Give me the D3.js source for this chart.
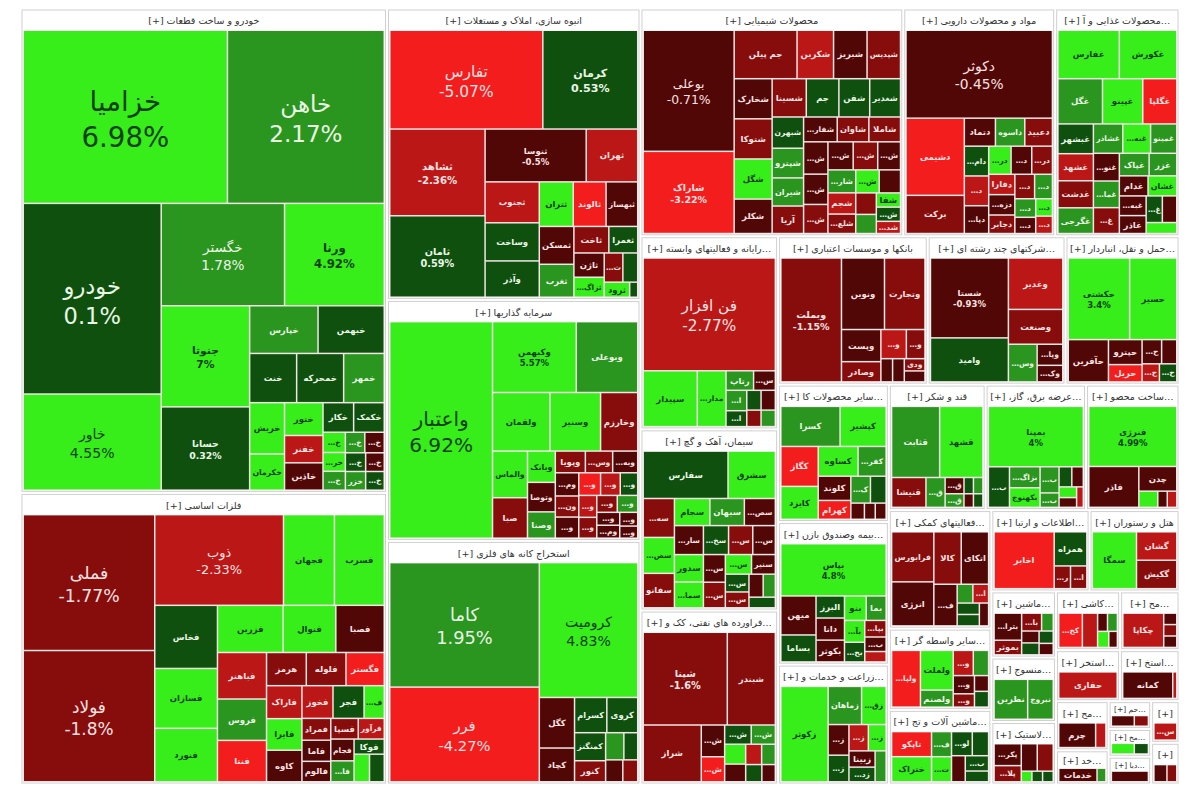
<!DOCTYPE html>
<html><head><meta charset="utf-8">
<script src="https://cdn.jsdelivr.net/npm/d3@7"></script>
<style>
html,body{margin:0;background:#fff;}
svg{display:block;font-family:"DejaVu Sans",Tahoma,sans-serif;}
</style></head><body>
<svg id="chart" width="1200" height="800"></svg>
<script>
// ---- stock data per sector: [symbol, market value (relative), change %] ----
const khodro = [["خزامیا",33.6,6.98],["خاهن",25.8,2.17],["خودرو",25.0,0.1],["خاور",12.6,4.55],["خگستر",12.0,1.78],["ورنا",9.7,4.92],["جنوتا",8.5,7.0],["حسانا",7.0,0.32],["خپارس",3.1,1.4],["خبهمن",3.0,0.6],["خنت",2.2,0.4],["خمحرکه",2.2,0.8],["خمهر",1.9,1.5],["خریش",1.7,3.5],["خکرمان",1.2,4.1],["ختور",1.2,3.8],["خفنر",1.0,-2.5],["خاذین",1.0,-0.6],["خکار",0.86,0.5],["خکمک",0.86,0.7],["خموتور",0.43,3.2],["خرینگ",0.4,4.0],["خلنت",0.4,1.5],["خدیزل",0.38,2.0],["خشرق",0.38,-0.5],["خوساز",0.36,0.4],["خزر",0.36,1.2],["خکاوه",0.33,-0.8],["خچرخش",0.33,0.6]];
const felezat = [["فملی",17.6,-1.77],["فولاد",17.0,-1.8],["ذوب",11.5,-2.33],["فجهان",4.55,3.6],["فسرب",4.45,4.2],["فخاس",3.9,0.5],["فسازان",3.7,3.9],["فنورد",3.3,3.1],["فزرین",3.05,5.1],["فنوال",2.45,4.4],["فصبا",2.25,-0.9],["فباهنر",2.25,-2.6],["فروس",2.0,1.6],["فنتا",2.0,-3.4],["هرمز",1.3,-1.6],["فلوله",1.3,-1.4],["فگستر",1.25,-3.2],["فاراک",1.15,-2.2],["فایرا",1.1,3.3],["کاوه",1.1,-0.7],["فخوز",1.0,-2.1],["فجر",1.0,0.6],["فکما",0.65,3.5],["فمراد",0.62,-1.3],["فاما",0.6,-0.7],["فالوم",0.58,-0.5],["فسپا",0.56,-1.2],["فرآور",0.53,-2.1],["فجام",0.5,-0.6],["فافزا",0.48,1.8],["فوکا",0.45,0.5],["فبستم",0.42,3.6],["فپنتا",0.4,0.7]];
const anbooh = [["تفارس",15,-5.07],["کرمان",9.3,0.53],["ثشاهد",8.2,-2.36],["ثامان",7.7,0.59],["ثنوسا",5.3,-0.5],["ثهران",2.7,-2.4],["ثجنوب",2.2,-2.9],["وساخت",2.05,0.7],["وآذر",1.95,0.8],["ثتران",1.5,4.0],["ثالوند",1.45,-3.5],["ثبهساز",1.4,-0.6],["ثمسکن",1.3,-0.4],["ثغرب",1.13,1.5],["ثاخت",0.92,-1.5],["ثعمرا",0.76,0.5],["ثاژن",0.73,-0.6],["ثزاگرس",0.6,3.1],["ثپردیس",0.54,-1.6],["ثقزوین",0.43,0.3],["ثرود",0.38,4.5],["ثنظام",0.12,0.2]];
const sarmaye = [["واعتبار",22.5,6.92],["وکبهمن",6.0,5.57],["وبوعلی",4.4,2.6],["ولقمان",3.4,3.9],["وسنیر",3.0,4.3],["وخارزم",2.2,-1.4],["والماس",1.65,3.4],["صبا",1.43,-1.2],["وبانک",0.88,3.6],["وتوصا",0.83,-0.6],["وصنا",0.74,2.2],["وپویا",0.66,-1.1],["وسبحان",0.6,-1.3],["وبهمن",0.55,-0.5],["ومعادن",0.55,-0.7],["ونیکی",0.5,-1.2],["وگستر",0.5,-0.7],["وپخش",0.5,-3.3],["وسنا",0.45,-2.2],["وکار",0.4,0.6],["وتوکا",0.4,-2.4],["وامین",0.38,-1.5],["ولساپا",0.35,-1.1],["وصندوق",0.35,1.7],["وسرمد",0.3,-0.4],["وملت",0.3,-0.6],["وآفری",0.25,-0.3],["وثوق",0.22,-0.8]];
const estekhraj = [["کاما",18.8,1.95],["فرر",14.3,-4.27],["کرومیت",13.4,4.83],["کگل",1.8,-0.5],["کچاد",1.2,-0.6],["کسرام",1.15,0.8],["کروی",1.1,0.6],["کمنگنز",0.88,0.4],["کنور",0.66,-1.3],["کبافق",0.5,1.5],["کمرجان",0.38,0.3],["کپرور",0.38,-0.4],["کهمدا",0.33,-1.2]];
const shimi = [["بوعلی",11.2,-0.71],["شاراک",7.6,-3.22],["جم پیلن",3.1,-1.4],["شکربن",1.8,-2.5],["شبریز",1.65,-0.5],["شپدیس",1.65,-1.5],["شخارک",1.55,-0.6],["شتوکا",1.55,-1.4],["شگل",1.55,4.1],["شکلر",1.33,-0.8],["شسینا",1.33,-1.9],["جم",1.27,0.4],["شفن",1.2,0.5],["شغدیر",1.2,0.7],["شبهرن",1.0,0.6],["آریا",0.88,-1.1],["شاوان",0.8,-1.3],["شاملا",0.8,-1.5],["شسپا",0.72,-1.2],["شصدف",0.72,-0.4],["شلعاب",0.55,-1.8],["شپترو",0.95,1.5],["شیران",0.9,2.1],["شفارس",0.85,-0.6],["شکبیر",0.8,-0.4],["شنفت",0.75,-0.7],["شصفها",0.7,-1.3],["شرانل",0.65,-0.5],["شاروم",0.65,1.2],["شجم",0.6,-2.4],["شمواد",0.55,3.5],["شوینا",0.5,-0.8],["شکف",0.45,-1.4],["شملی",0.4,1.7],["شفا",0.35,3.2],["شتولی",0.35,0.5],["شدوص",0.3,-2.2]];
const daroo = [["دکوثر",13.3,-0.45],["دشیمی",4.65,-3.6],["برکت",2.3,-1.7],["دامین",0.75,0.5],["دسبحا",0.6,-0.5],["دفارا",0.55,-2.3],["دجابر",0.5,-1.4],["دتماد",0.9,-0.6],["داسوه",0.85,1.6],["دعبید",0.8,-1.3],["دسینا",0.75,-2.3],["دپارس",0.7,-0.5],["درازک",0.65,3.4],["دروز",0.6,-1.5],["دزهراوی",0.55,-0.4],["دفرا",0.5,-1.2],["دیران",0.45,1.9],["دقاضی",0.4,1.3],["دتولید",0.35,-0.7],["داوه",0.3,3.8],["دکیمی",0.3,-2.6]];
const ghaza = [["غفارس",3.1,3.6],["غکورش",2.9,4.4],["غگل",2.1,1.8],["غپینو",1.9,5.0],["غگلپا",1.6,-3.5],["غبشهر",1.1,0.6],["غشهد",1.0,-2.2],["غدشت",1.0,-1.4],["غگرجی",0.95,1.5],["غشاذر",0.9,2.1],["غبهنوش",0.85,3.3],["غمینو",0.8,1.7],["غنوش",0.75,-0.5],["غمارگ",0.72,1.4],["غسالم",0.7,-1.2],["غپاک",0.7,2.4],["غزر",0.65,1.1],["غدام",0.6,-0.6],["غشان",0.6,3.9],["غبهپاک",0.55,-0.4],["غاذر",0.5,-0.8],["غصینو",0.45,0.5],["غچین",0.4,-0.3],["غگیلا",0.35,3.1]];
const rayane = [["فن افزار",15.8,-2.77],["سپیدار",3.2,4.6],["مداران",1.7,3.7],["رتاپ",0.57,1.6],["سیستم",0.45,-0.6],["افرانت",0.45,1.3],["اپرداز",0.35,0.5],["رانفور",0.3,0.7],["فناوا",0.3,-0.4],["مفاخر",0.25,-1.2],["توسن",0.25,1.8]];
const siman = [["سفارس",4.3,0.6],["سشرق",2.4,4.2],["سهگمت",1.3,-1.3],["سصفها",1.2,3.6],["سفانو",1.15,-1.5],["سجام",1.03,3.9],["سصوفی",0.9,-0.6],["سخزر",0.78,0.5],["سبهان",1.0,1.8],["ساروم",0.9,-0.6],["سدور",0.85,3.2],["سمازن",0.8,3.7],["سغرب",0.75,-1.3],["سکرما",0.7,-0.5],["سیلام",0.65,-0.7],["سخاش",0.6,-1.5],["ستران",0.55,3.4],["سنیر",0.5,-0.4],["سقاین",0.45,0.6],["سبجنو",0.4,-1.9],["سکارون",0.35,-0.8],["سهرمز",0.3,2.2],["سدشت",0.3,0.4]];
const faravarde = [["شپنا",8.4,-1.6],["شبندر",4.8,-1.3],["شراز",3.55,-1.2],["شیراز",0.8,-0.5],["شدیس",0.63,-3.3],["شتران",0.55,0.5],["شپاس",0.5,1.4],["شلرد",0.45,3.5],["شخزر",0.4,-0.6],["شگویا",0.35,-2.1],["شبنیر",0.3,1.2],["شرفت",0.3,0.4],["شکام",0.25,-0.3]];
const bank = [["وبملت",8.3,-1.15],["ونوین",3.4,-0.6],["وتجارت",3.2,-1.3],["وپست",1.4,-0.5],["وصادر",0.88,-1.4],["وسینا",0.82,-2.3],["وپاسار",0.6,-1.9],["وخاور",0.3,-0.5],["وآیند",0.3,-0.7],["ودی",0.28,-1.1],["وشهر",0.25,-0.6]];
const chand = [["شستا",6.9,-0.93],["وامید",3.8,0.8],["وغدیر",3.1,-2.4],["وصنعت",2.1,-1.4],["وسپهر",1.2,1.6],["وپارس",0.6,-0.6],["وکغدیر",0.47,-0.7]];
const haml = [["حکشتی",5.6,3.4],["حسیر",4.3,4.1],["حآفرین",1.9,-0.6],["حپترو",0.94,-0.5],["حریل",0.65,-3.1],["حسینا",0.53,-0.8],["حتوکا",0.41,-0.6],["حفارس",0.35,-2.5],["حتاید",0.35,0.4]];
const kani = [["کسرا",2.7,1.8],["کپشیر",2.1,3.7],["کگاز",1.7,-3.3],["کایزد",1.4,4.2],["کساوه",1.35,3.5],["کفرآور",0.95,1.6],["کلوند",0.9,-0.6],["کهرام",0.7,-3.4],["کترام",0.6,1.3],["کرازی",0.48,0.5],["کفپارس",0.25,-0.5],["کسعدی",0.2,-0.7],["کمینا",0.2,-0.4]];
const bime = [["بپاس",6.2,4.8],["میهن",1.55,-0.5],["بساما",1.07,0.6],["البرز",0.71,0.5],["دانا",0.71,-0.6],["بکوثر",0.7,-0.5],["بنو",0.6,3.4],["بما",0.55,1.3],["بآسیا",0.5,4.0],["بحافظ",0.45,0.4],["بپارس",0.4,-1.2],["بسین",0.35,-0.4],["بتجارت",0.25,-2.1]];
const zeraat = [["زکوثر",5.3,4.4],["زماهان",1.5,1.7],["زقیام",1.1,3.6],["زشریف",0.75,-0.6],["زگلدشت",0.65,0.5],["زمگسا",0.6,-2.2],["زشگزا",0.55,3.1],["زبینا",0.5,-0.4],["زدشت",0.45,0.7],["زفجر",0.4,1.5]];
const ghand = [["قثابت",4.0,1.6],["قشهد",3.6,3.9],["قنیشا",1.2,-1.1],["قپیرا",0.67,1.5],["قشکر",0.36,-0.6],["قهکمت",0.3,1.2],["قلرست",0.18,0.5],["قاسم",0.18,1.4],["قمرو",0.15,-0.5],["قچار",0.15,0.3]];
const bargh = [["بمپنا",6.7,4.0],["بفجر",1.0,0.9],["بزاگرس",0.75,1.3],["بکهنوج",0.7,3.2],["بپیوند",0.58,1.5],["بجهرم",0.32,1.2],["بنیرو",0.3,0.6],["بسویچ",0.27,-0.5],["بموتو",0.22,3.4],["بالبر",0.2,-0.6],["برق",0.16,-2.1]];
const felzi = [["فنرژی",6.2,4.99],["فاذر",2.4,-0.6],["چدن",1.1,-0.7],["فتوسا",0.36,3.2],["فمحور",0.18,-0.5],["فسوژ",0.18,-2.2]];
const komaki = [["فرابورس",2.5,-1.2],["انرژی",2.2,-0.6],["کالا",1.7,-1.6],["اتکای",1.7,-0.4],["فبورس",1.15,-0.5],["ساوه",0.35,1.4],["اتکاسا",0.35,-2.4],["وآتوس",0.3,0.5],["ثبات",0.3,0.6],["وآرین",0.25,-0.5]];
const vaseteh = [["ولپارس",2.2,-3.6],["ولملت",1.75,3.8],["ولصنم",0.75,1.6],["ولکار",0.68,-2.2],["ولغدر",0.52,1.3],["ولبهمن",0.52,-0.6],["ولتجار",0.38,-1.8],["ولایران",0.3,-0.5],["ولسپه",0.3,0.4]];
const mashinalat = [["تاپکو",1.4,-3.2],["ختراک",1.4,3.4],["فجوش",0.7,1.6],["تپمپی",0.7,3.9],["لوتوس",0.7,0.5],["کمرال",0.55,0.6],["تایرا",0.5,-0.6],["بشرق",0.5,0.7],["پارسان",0.35,0.4]];
const ettelaat = [["اخابر",4.6,-3.8],["همراه",1.5,0.6],["رتکو",0.5,-1.6],["ابرج",0.5,-1.2]];
const hotel = [["سمگا",3.4,3.9],["گشان",1.55,-2.1],["گکیش",1.55,-1.4]];
const mashin = [["بترانس",1.15,-0.6],["بموثر",0.62,-1.3],["بالاس",0.55,-1.5],["کنتور",0.32,1.5],["بتک",0.32,-0.5],["بنوسا",0.32,0.5],["بکابل",0.27,0.6],["بشهاب",0.25,-0.7]];
const mansoojat = [["نطرین",2.1,1.7],["نبروج",1.6,1.6]];
const lastik = [["پکرمان",0.95,-0.7],["پلاست",0.7,-1.9],["پاکشو",0.7,-0.5],["پکویر",0.7,-1.8],["پسهند",0.18,3.5],["پیوند",0.18,0.4],["پدرخش",0.18,0.6]];
const kashi = [["کحافظ",1.35,-3.5],["کاذر",0.87,-2.4],["کپارس",0.3,-0.8],["کتوکا",0.3,1.6],["کصدف",0.3,3.3],["کیسون",0.23,-0.5]];
const kaghaz = [["چکاپا",2.35,-2.8],["چکارن",0.25,-0.6],["چفیبر",0.25,-1.2],["چنوپا",0.25,-0.5]];
const naft = [["حفاری",2.9,-2.6]];
const maaden = [["کمانه",2.5,-0.7],["کخاک",0.2,-2.2]];
const charm = [["چرم",1.8,-0.7],["چکاوه",0.5,-2.3]];
const fanni = [["خدمات",1.3,-0.6],["فنی",0.3,1.5]];
const abi = [["حاسا",0.65,-0.6],["حگهر",0.4,-1.5]];
const choob = [["چوب",0.65,3.2],["چوکا",0.4,0.5]];
const dabbaghi = [["دباغ",1.05,-0.5]];
const sayer = [["سپرمی",1.05,-2.1]];
const farhangi = [["کورز",0.6,-0.6],["کفرا",0.45,-1.3]];

// ---- sector titles ----
const sectorList = [
  ["khodro","خودرو و ساخت قطعات",khodro],
  ["felezat","فلزات اساسی",felezat],
  ["anbooh","انبوه سازی، املاک و مستغلات",anbooh],
  ["sarmaye","سرمایه گذاریها",sarmaye],
  ["estekhraj","استخراج کانه های فلزی",estekhraj],
  ["shimi","محصولات شیمیایی",shimi],
  ["daroo","مواد و محصولات دارویی",daroo],
  ["ghaza","محصولات غذایی و آشامیدنی به جز قند و شکر",ghaza],
  ["rayane","رایانه و فعالیتهای وابسته به آن",rayane],
  ["siman","سیمان، آهک و گچ",siman],
  ["faravarde","فراورده های نفتی، کک و سوخت هسته ای",faravarde],
  ["bank","بانکها و موسسات اعتباری",bank],
  ["chand","شرکتهای چند رشته ای صنعتی",chand],
  ["haml","حمل و نقل، انبارداری و ارتباطات",haml],
  ["kani","سایر محصولات کانی غیرفلزی",kani],
  ["bime","بیمه وصندوق بازنشستگی به جزتامین اجتماعی",bime],
  ["zeraat","زراعت و خدمات وابسته",zeraat],
  ["ghand","قند و شکر",ghand],
  ["bargh","عرضه برق، گاز، بخاروآب گرم",bargh],
  ["felzi","ساخت محصولات فلزی",felzi],
  ["komaki","فعالیتهای کمکی به نهادهای مالی واسط",komaki],
  ["vaseteh","سایر واسطه گریهای مالی",vaseteh],
  ["mashinalat","ماشین آلات و تجهیزات",mashinalat],
  ["ettelaat","اطلاعات و ارتباطات",ettelaat],
  ["hotel","هتل و رستوران",hotel],
  ["mashin","ماشین آلات و دستگاههای برقی",mashin],
  ["mansoojat","منسوجات",mansoojat],
  ["lastik","لاستیک و پلاستیک",lastik],
  ["kashi","کاشی و سرامیک",kashi],
  ["kaghaz","محصولات کاغذی",kaghaz],
  ["naft","استخراج نفت گاز و خدمات جنبی",naft],
  ["maaden","استخراج سایر معادن",maaden],
  ["charm","محصولات چرمی",charm],
  ["fanni","خدمات فنی و مهندسی",fanni],
  ["abi","حمل و نقل آبی",abi],
  ["choob","محصولات چوبی",choob],
  ["dabbaghi","دباغی و پرداخت چرم",dabbaghi],
  ["sayer","سایر محصولات",sayer],
  ["farhangi","فعالیتهای فرهنگی",farhangi]
];

// ---- how sectors are grouped (h = side by side, v = stacked) ----
const layoutTree = ['h',
  ['v','khodro','felezat'],
  ['v','anbooh','sarmaye','estekhraj'],
  ['v',
    ['h','shimi','daroo','ghaza'],
    ['h',
      ['v','rayane','siman','faravarde'],
      ['v',
        ['h','bank','chand','haml'],
        ['h',
          ['v','kani','bime','zeraat'],
          ['v',
            ['h','ghand','bargh','felzi'],
            ['h',
              ['v','komaki','vaseteh','mashinalat'],
              ['v',
                ['h','ettelaat','hotel'],
                ['h',
                  ['v','mashin','mansoojat','lastik'],
                  ['v',
                    ['h','kashi','kaghaz'],
                    ['h','naft','maaden'],
                    ['h',['v','charm','fanni'],['v','abi','choob','dabbaghi'],['v','sayer','farhangi']]
                  ]
                ]
              ]
            ]
          ]
        ]
      ]
    ]
  ]
];

const W = 1200, H = 800, M = {left:22, top:10, right:22, bottom:17};
const sectorByKey = new Map(sectorList.map(([k,t,s]) => [k,{t,s}]));
function build(node){
  if (typeof node === 'string'){
    const {t,s} = sectorByKey.get(node);
    return {kind:'sector', name:t, children: s.map(([n,v,c]) => ({kind:'stock', name:n, value:v, change:c}))};
  }
  const [split, ...kids] = node;
  return {kind:'group', split, children: kids.map(build)};
}
const root = d3.hierarchy(build(layoutTree))
  .sum(d => d.kind === 'stock' ? d.value : 0)
  .sort((a,b) => (a.parent && a.parent.data.kind === 'sector') ? b.value - a.value : 0);

const squarify = d3.treemapSquarify.ratio(1);
const tile = (node, x0, y0, x1, y1) => {
  const s = node.data.split;
  if (s === 'h') d3.treemapDice(node, x0, y0, x1, y1);
  else if (s === 'v') d3.treemapSlice(node, x0, y0, x1, y1);
  else squarify(node, x0, y0, x1, y1);
};
const headerH = n => Math.min(21, (n.y1 - n.y0) * 0.55);
const isSec = n => n.data.kind === 'sector';

d3.treemap()
  .size([W - M.left - M.right, H - M.top - M.bottom])
  .tile(tile)
  .paddingInner(n => isSec(n) ? 1.5 : 3)
  .paddingTop(n => isSec(n) ? headerH(n) : 0)
  .paddingLeft(n => isSec(n) ? 2 : 0)
  .paddingRight(n => isSec(n) ? 2 : 0)
  .paddingBottom(n => isSec(n) ? 2 : 0)
  (root);

const color = d3.scaleThreshold()
  .domain([-3,-2,-1,0,1,3])
  .range(["#f41d1d","#bb1717","#870d0d","#520707","#0f500f","#2a951f","#37ee1a"]);
const textColor = c => c >= 3 ? "#0c3f0c" : (c >= 0 ? "#eaf7e6" : "#fbe2e2");
const fmt = v => (+v.toFixed(2)) + "%";

const svg = d3.select("#chart");
const g = svg.append("g").attr("transform", `translate(${M.left},${M.top})`);

const sectors = root.descendants().filter(isSec);
const secG = g.selectAll("g.sector").data(sectors).join("g").attr("class","sector");
secG.append("rect")
  .attr("x", d => d.x0).attr("y", d => d.y0)
  .attr("width", d => d.x1 - d.x0).attr("height", d => d.y1 - d.y0)
  .attr("fill", "#fff").attr("stroke", "#d0d0d0").attr("stroke-width", 1);
secG.append("rect")
  .attr("x", d => d.x0 + 1).attr("y", d => d.y0 + headerH(d) - 0.5)
  .attr("width", d => Math.max(0, d.x1 - d.x0 - 2))
  .attr("height", d => Math.max(0, d.y1 - d.y0 - headerH(d) - 0.5))
  .attr("fill", "#f1e6e6");
secG.each(function(d){
  const hh = headerH(d), w = d.x1 - d.x0;
  const fs = Math.min(9.5, hh * 0.55);
  const t = d3.select(this).append("text")
    .attr("x", (d.x0 + d.x1) / 2).attr("y", d.y0 + hh / 2 + fs * 0.38)
    .attr("text-anchor", "middle").attr("font-size", fs).attr("fill", "#333")
    .style("direction", "rtl").style("unicode-bidi", "embed")
    .text(d.data.name + " [+]");
  let k = d.data.name.length;
  while (t.node().getComputedTextLength() > w - 6 && k > 0) {
    k--;
    t.text("…" + d.data.name.slice(0, k) + " [+]");
  }
  if (t.node().getComputedTextLength() > w - 2) t.text("[+]");
});

const leaves = root.leaves();
const cell = g.selectAll("g.cell").data(leaves).join("g").attr("class","cell");
cell.append("rect")
  .attr("x", d => d.x0).attr("y", d => d.y0)
  .attr("width", d => Math.max(0, d.x1 - d.x0)).attr("height", d => Math.max(0, d.y1 - d.y0))
  .attr("fill", d => color(d.data.change));

cell.each(function(d){
  const w = d.x1 - d.x0, h = d.y1 - d.y0;
  if (w < 14 || h < 10) return;
  const area = w * h;
  let fs = 27 * Math.pow(area / 33600, 0.68);
  let showPct = fs >= 7;
  fs = Math.max(fs, 8.5);
  const sel = d3.select(this);
  const cx = (d.x0 + d.x1) / 2, cy = (d.y0 + d.y1) / 2;
  const tc = textColor(d.data.change);
  const name = sel.append("text")
    .attr("x", cx).attr("text-anchor", "middle").attr("fill", tc)
    .style("direction", "rtl").style("unicode-bidi", "embed")
    .attr("font-size", fs).attr("font-weight", fs < 12 ? "bold" : "normal")
    .text(d.data.name);
  let len = name.node().getComputedTextLength();
  if (len > w - 4) {
    fs = Math.max(7.5, fs * (w - 4) / len);
    name.attr("font-size", fs).attr("font-weight", fs < 12 ? "bold" : "normal");
    len = name.node().getComputedTextLength();
    let k = d.data.name.length;
    while (len > w - 3 && k > 1) {
      k--;
      name.text(d.data.name.slice(0, k) + "…");
      len = name.node().getComputedTextLength();
    }
    if (len > w - 2) { name.remove(); return; }
  }
  if (fs > h - 2) { name.remove(); return; }
  if (showPct && h >= fs * 2.3) {
    name.attr("y", cy - 0.2 * fs);
    sel.append("text")
      .attr("x", cx).attr("y", cy + 1.1 * fs)
      .attr("text-anchor", "middle").attr("fill", tc)
      .attr("font-size", fs).attr("font-weight", fs < 12 ? "bold" : "normal")
      .text(fmt(d.data.change));
  } else {
    name.attr("y", cy + 0.35 * fs);
  }
});
</script>
</body></html>
